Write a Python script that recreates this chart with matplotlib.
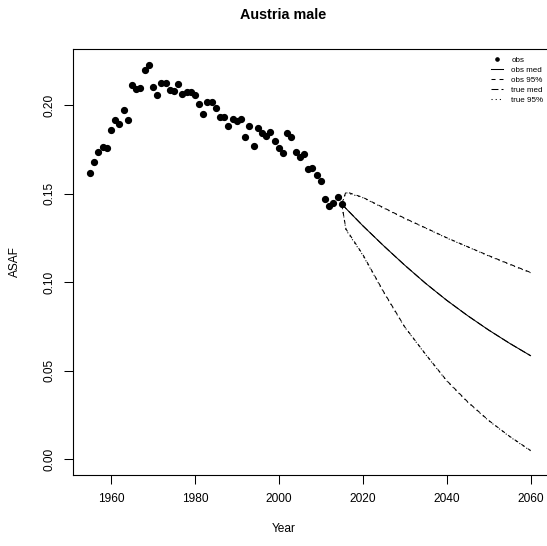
import matplotlib
matplotlib.use("Agg")
import matplotlib.pyplot as plt

plt.rcParams['font.family'] = ['Liberation Sans', 'DejaVu Sans']
plt.rcParams['lines.scale_dashes'] = False

# ---- data ----
obs_years = list(range(1955, 2016))
obs_vals = [0.1618, 0.1680, 0.1737, 0.1765, 0.1759, 0.1861, 0.1915, 0.1895, 0.1972, 0.1915,
            0.2113, 0.2090, 0.2096, 0.2198, 0.2226, 0.2103, 0.2058, 0.2126, 0.2126, 0.2085,
            0.2081, 0.2119, 0.2064, 0.2073, 0.2073, 0.2058, 0.2007, 0.1951, 0.2019, 0.2019,
            0.1985, 0.1934, 0.1934, 0.1883, 0.1919, 0.1910, 0.1920, 0.1821, 0.1883, 0.1770,
            0.1872, 0.1844, 0.1825, 0.1849, 0.1798, 0.1759, 0.1727, 0.1844, 0.1821, 0.1737,
            0.1708, 0.1722, 0.1639, 0.1646, 0.1605, 0.1573, 0.1468, 0.1430, 0.1445, 0.1482,
            0.1441]

proj_years = [2015, 2016, 2020, 2025, 2030, 2035, 2040, 2045, 2050, 2055, 2060]
obs_med = [0.1441, 0.1416, 0.1319, 0.1205, 0.1096, 0.0993, 0.0898, 0.0811, 0.0730, 0.0655, 0.0585]
obs_hi = [0.1441, 0.1510, 0.1479, 0.1420, 0.1361, 0.1306, 0.1251, 0.1200, 0.1150, 0.1102, 0.1055]
obs_lo = [0.1441, 0.1300, 0.1157, 0.0945, 0.0748, 0.0593, 0.0445, 0.0325, 0.0220, 0.0130, 0.0050]
true_med = [0.1441, 0.1416, 0.1319, 0.1205, 0.1096, 0.0993, 0.0898, 0.0811, 0.0730, 0.0655, 0.0585]
true_hi = [0.1441, 0.1505, 0.1477, 0.1418, 0.1359, 0.1305, 0.1249, 0.1199, 0.1148, 0.1100, 0.1053]
true_lo = [0.1441, 0.1295, 0.1153, 0.0942, 0.0746, 0.0591, 0.0443, 0.0323, 0.0218, 0.0128, 0.0048]

xticks = [1960, 1980, 2000, 2020, 2040, 2060]
yticks = [0.00, 0.05, 0.10, 0.15, 0.20]
ytick_labels = ["0.00", "0.05", "0.10", "0.15", "0.20"]

W, H = 547, 546
fig = plt.figure(figsize=(W / 100, H / 100), dpi=100)
L, R, T, B = 73, 548, 49, 475
ax = fig.add_axes([L / W, (H - B) / H, (R - L) / W, (B - T) / H])

LW = 0.75
ax.plot(obs_years, obs_vals, 'o', color='black', markersize=4.2, label='obs')
ax.plot(proj_years, obs_med, '-', color='black', lw=LW, label='obs med')
ax.plot(proj_years, obs_hi, color='black', lw=LW, dashes=(2.9, 2.9), label='obs 95%')
ax.plot(proj_years, obs_lo, color='black', lw=LW, dashes=(2.9, 2.9))
ax.plot(proj_years, true_med, color='black', lw=LW, dashes=(5.0, 2.2), label='true med')
ax.plot(proj_years, true_hi, color='black', lw=LW, dashes=(0.8, 2.2), label='true 95%')
ax.plot(proj_years, true_lo, color='black', lw=LW, dashes=(0.8, 2.2))

ax.set_xlim(1950.94, 2064.17)
ax.set_ylim(-0.00886, 0.2316)
ax.set_xticks(xticks)
ax.set_xticklabels([str(x) for x in xticks])
ax.set_yticks(yticks)
ax.set_yticklabels(ytick_labels)

for s in ax.spines.values():
    s.set_linewidth(0.8)
    s.set_color('black')
ax.tick_params(axis='both', direction='out', length=6.3, width=0.75, labelsize=8.6, color='black')
ax.tick_params(axis='x', pad=7)
ax.tick_params(axis='y', pad=6, labelrotation=90)
for lab in ax.get_yticklabels():
    lab.set_va('center')

fig.text(283 / W, 1 - 15 / H, 'Austria male', ha='center', va='center', fontsize=10.4, fontweight='bold')
fig.text(284 / W, 1 - 529 / H, 'Year', ha='center', va='center', fontsize=8.6)
fig.text(15 / W, 1 - 262 / H, 'ASAF', ha='center', va='center', fontsize=8.6, rotation=90)

leg = ax.legend(loc='upper left', bbox_to_anchor=(491 / W, 1 - 56 / H), bbox_transform=fig.transFigure,
                frameon=False, fontsize=5.8, handlelength=1.5, handletextpad=1.0, labelspacing=0.3,
                borderpad=0, borderaxespad=0, markerscale=0.55, numpoints=1)

fig.savefig('out.png', dpi=100)
